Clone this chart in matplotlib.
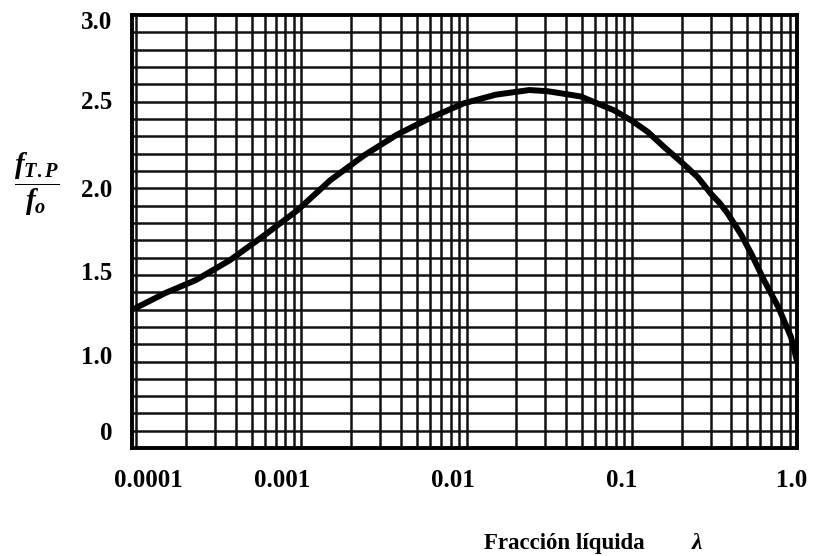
import numpy as np
import matplotlib
matplotlib.use("Agg")
import matplotlib.pyplot as plt
from matplotlib.ticker import FixedLocator, NullFormatter
from matplotlib.transforms import ScaledTranslation

# Liquid fraction (lambda) and friction-factor ratio f_TP / f_o
liquid_fraction = [0.0001, 0.00015, 0.00023, 0.00037, 0.0006, 0.00095, 0.0015,
                   0.0024, 0.0038, 0.006, 0.0096, 0.015, 0.024, 0.031, 0.049,
                   0.078, 0.1, 0.125, 0.156, 0.2, 0.25, 0.3, 0.34, 0.38, 0.42,
                   0.46, 0.53, 0.63, 0.77, 0.92, 1.0]
friction_ratio = [1.31, 1.395, 1.47, 1.585, 1.73, 1.874, 2.047,
                  2.19, 2.31, 2.405, 2.49, 2.54, 2.567, 2.56, 2.53,
                  2.45, 2.39, 2.325, 2.24, 2.15, 2.065, 1.97, 1.915, 1.855, 1.79,
                  1.73, 1.62, 1.47, 1.314, 1.14, 1.0]

x_ticks = [0.0001, 0.001, 0.01, 0.1, 1.0]
x_tick_labels = ["0.0001", "0.001", "0.01", "0.1", "1.0"]
y_ticks = [0.6, 1.04, 1.52, 2.0, 2.51, 2.97]
y_tick_labels = ["0", "1.0", "1.5", "2.0", "2.5", "3.0"]

plt.rcParams["font.family"] = ["Liberation Serif", "DejaVu Serif"]
plt.rcParams["font.weight"] = "bold"
plt.rcParams["mathtext.fontset"] = "custom"
plt.rcParams["mathtext.rm"] = "Liberation Serif:bold"
plt.rcParams["mathtext.it"] = "Liberation Serif:italic:bold"
plt.rcParams["mathtext.bf"] = "Liberation Serif:bold"

fig = plt.figure(figsize=(8.14, 5.56), dpi=100)
ax = fig.add_axes([0.1622, 0.194, 0.8170, 0.779])

ax.set_xscale("log")
ax.set_xlim(9.45e-5, 1.0)
ax.set_ylim(0.5, 3.0)

# Graph-paper grid: every log sub-division and every 0.1 vertically
minor_x = []
for dec in [1e-5, 1e-4, 1e-3, 1e-2, 1e-1]:
    for m in range(1, 10):
        v = m * dec
        if 9.45e-5 < v < 1.0:
            minor_x.append(v)
for v in minor_x:
    ax.axvline(v, color="#111111", lw=1.8, zorder=1)
for v in np.arange(0.6, 3.0, 0.1):
    ax.axhline(v, color="#111111", lw=1.8, zorder=1)

ax.plot(liquid_fraction, friction_ratio, color="black", lw=4.3,
        solid_capstyle="round", solid_joinstyle="round", zorder=3)

ax.xaxis.set_major_locator(FixedLocator(x_ticks))
ax.xaxis.set_minor_formatter(NullFormatter())
ax.set_xticks(x_ticks)
ax.set_xticklabels(x_tick_labels)
ax.set_yticks(y_ticks)
ax.set_yticklabels(y_tick_labels)
ax.tick_params(axis="both", which="both", length=0, labelsize=18)
ax.tick_params(axis="x", pad=15)
ax.tick_params(axis="y", pad=14)
for lab in ax.get_xticklabels() + ax.get_yticklabels():
    lab.set_fontweight("bold")

# printed label offsets along the x axis (in points)
label_shift = [9, -14, -10, -7, -4]
for lab, dx in zip(ax.get_xticklabels(), label_shift):
    lab.set_transform(lab.get_transform() + ScaledTranslation(dx / 72, 0, fig.dpi_scale_trans))

for s in ax.spines.values():
    s.set_linewidth(2.8)
    s.set_color("black")

fig.text(0.045, 0.668, r"$\dfrac{f_{T.P}}{f_o}$", fontsize=21,
         ha="center", va="center")
fig.text(0.6935, 0.004, "Fracción líquida", fontsize=16.5, fontweight="bold",
         ha="center", va="bottom")
fig.text(0.857, 0.004, r"$\lambda$", fontsize=17, ha="center", va="bottom",
         family=["DejaVu Serif"], style="italic", weight="bold")

fig.savefig("out.png", dpi=100, facecolor="white")
